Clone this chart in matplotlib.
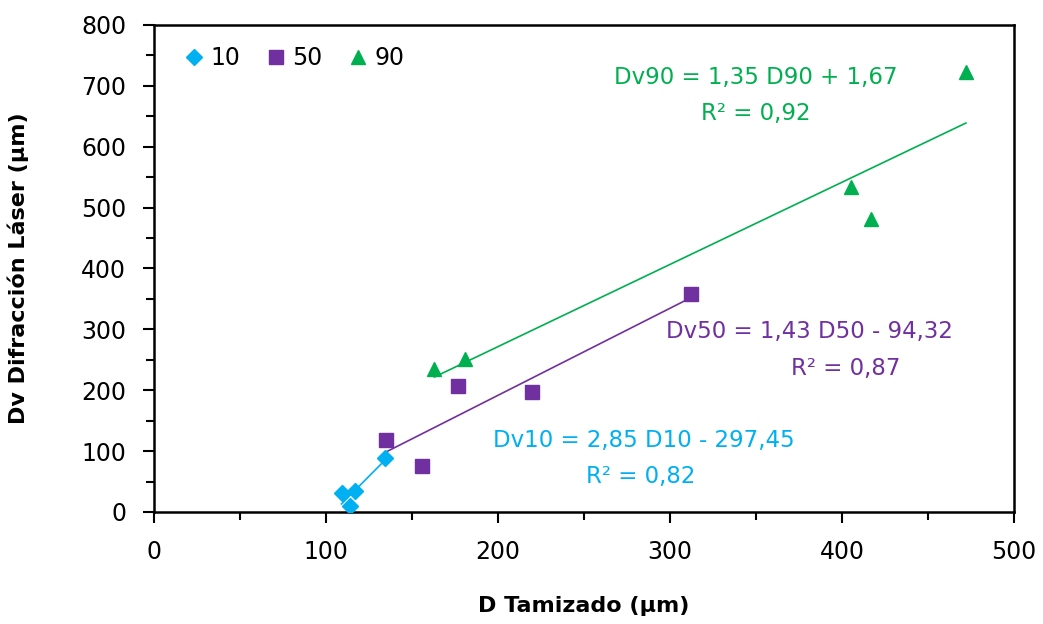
import matplotlib
matplotlib.use("Agg")
import matplotlib.pyplot as plt
import numpy as np
from matplotlib.ticker import MultipleLocator

# Dv10
d10 = [109, 117, 114, 134]
dv10 = [31, 34, 10, 89]
# Dv50
d50 = [135, 156, 177, 220, 312]
dv50 = [118, 75, 207, 197, 358]
# Dv90
d90 = [163, 181, 405, 417, 472]
dv90 = [235, 251, 534, 481, 722]

# linear trend coefficients (slope, intercept) as printed on the chart
fit10 = [2.85, -297.45]
fit50 = [1.43, -94.32]
fit90 = [1.35, 1.67]

c10 = "#00B0F0"
c50 = "#7030A0"
c90 = "#00B050"

plt.rcParams['font.family'] = ['DejaVu Sans']

fig = plt.figure(figsize=(10.43, 6.24), dpi=100)
ax = fig.add_axes([0.1477, 0.1795, 0.8245, 0.7805])

ax.plot(d10, dv10, 'D', color=c10, ms=8, label='10', zorder=3)
ax.plot(d50, dv50, 's', color=c50, ms=10, label='50', zorder=3)
ax.plot(d90, dv90, '^', color=c90, ms=10, label='90', zorder=3)

for xs, fit, col in [(d10, fit10, c10), (d50, fit50, c50), (d90, fit90, c90)]:
    xx = np.array([min(xs), max(xs)])
    ax.plot(xx, fit[0] * xx + fit[1], color=col, lw=1.2, zorder=2)

fs = 16.5
ax.text(350, 714, "Dv90 = 1,35 D90 + 1,67", color=c90, fontsize=fs, ha='center', va='center')
ax.text(350, 655, "R² = 0,92", color=c90, fontsize=fs, ha='center', va='center')
ax.text(381, 297, "Dv50 = 1,43 D50 - 94,32", color=c50, fontsize=fs, ha='center', va='center')
ax.text(402, 236, "R² = 0,87", color=c50, fontsize=fs, ha='center', va='center')
ax.text(285, 118, "Dv10 = 2,85 D10 - 297,45", color=c10, fontsize=fs, ha='center', va='center')
ax.text(283, 59, "R² = 0,82", color=c10, fontsize=fs, ha='center', va='center')

ax.set_xlim(0, 500)
ax.set_ylim(0, 800)
ax.xaxis.set_major_locator(MultipleLocator(100))
ax.xaxis.set_minor_locator(MultipleLocator(50))
ax.yaxis.set_major_locator(MultipleLocator(100))
ax.yaxis.set_minor_locator(MultipleLocator(50))
ax.tick_params(which='major', direction='out', length=8, width=1.5, labelsize=17, pad=12)
ax.tick_params(which='minor', direction='out', length=6, width=1.5)
ax.tick_params(axis='y', which='major', pad=12)
for s in ax.spines.values():
    s.set_linewidth(1.8)

ax.set_xlabel("D Tamizado (µm)", fontsize=16, fontweight='bold')
ax.set_ylabel("Dv Difracción Láser (µm)", fontsize=16, fontweight='bold')
ax.xaxis.set_label_coords(0.5, -0.172)
ax.yaxis.set_label_coords(-0.145, 0.5)

ax.legend(loc='upper left', ncol=3, frameon=False, fontsize=17, handletextpad=0.1,
          columnspacing=0.9, handlelength=1.2, bbox_to_anchor=(0.005, 1.0))

fig.savefig("out.png", dpi=100)
